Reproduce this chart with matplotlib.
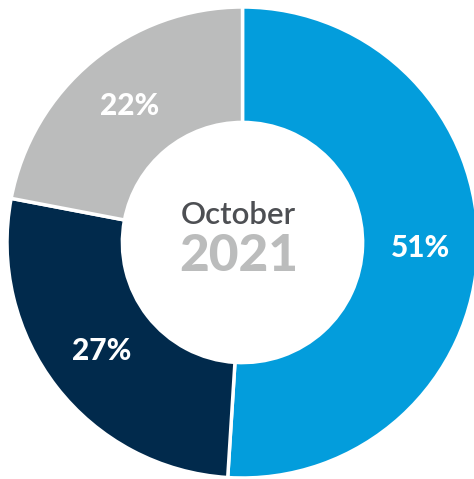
import matplotlib
matplotlib.use("Agg")
import matplotlib.pyplot as plt

categories = ["Blue", "Navy", "Gray"]
values = [51, 27, 22]
colors = ["#039ddc", "#012a4c", "#bbbcbc"]
center_month = "October"
center_year = "2021"

W, H = 474, 479
cx, cy, R = 242.5, 242.5, 235.5

fig = plt.figure(figsize=(W / 100, H / 100), dpi=100)
ax = fig.add_axes([0, 0, 1, 1])
ax.axis("off")

wedges, texts, autotexts = ax.pie(
    values, colors=colors, startangle=90, counterclock=False, radius=1,
    autopct=lambda p: f"{p:.0f}%", pctdistance=0.755,
    wedgeprops=dict(width=0.49, edgecolor="white", linewidth=2.5),
    textprops=dict(color="white", fontsize=21.5, fontweight="black", family="Lato"),
)
ax.set_aspect("auto")
ax.set_xlim(-cx / R, (W - cx) / R)
ax.set_ylim(-(H - cy) / R, cy / R)

ax.text(-4 / R, 28 / R, center_month, ha="center", va="center",
        fontsize=22.5, color="#4d4f53", family="Lato", fontweight="semibold")
ax.text(-4 / R, -14 / R, center_year, ha="center", va="center",
        fontsize=37, color="#bbbcbc", family="Lato", fontweight="black")

fig.savefig("out.png", dpi=100)
